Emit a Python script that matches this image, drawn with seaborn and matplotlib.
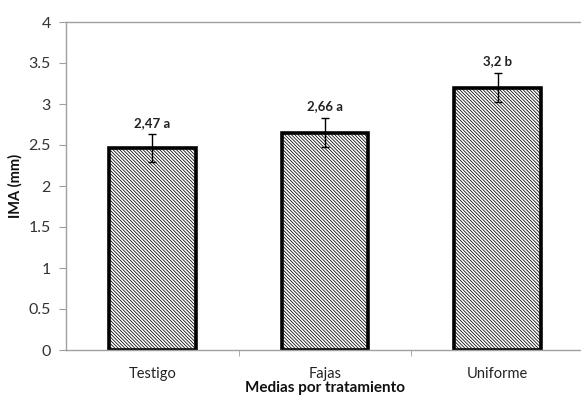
import numpy as np
import pandas as pd
import matplotlib
matplotlib.use("Agg")
import matplotlib.pyplot as plt
import seaborn as sns

# data
tratamientos = ["Testigo", "Fajas", "Uniforme"]
ima_media = [2.46, 2.65, 3.20]
ima_error = [0.17, 0.18, 0.18]
etiquetas = ["2,47 a", "2,66 a", "3,2 b"]

datos = pd.DataFrame({"Tratamiento": tratamientos, "IMA": ima_media})

sns.set_style("white")
plt.rcParams["font.family"] = ["Lato", "DejaVu Sans"]
plt.rcParams["hatch.linewidth"] = 0.55
plt.rcParams["hatch.color"] = "black"

fig = plt.figure(figsize=(5.81, 3.97), dpi=100)
ax = fig.add_axes([66 / 581, 1 - 350 / 397, 518 / 581, 328 / 397])

sns.barplot(
    data=datos,
    x="Tratamiento",
    y="IMA",
    color="white",
    edgecolor="black",
    linewidth=2.6,
    width=0.5,
    errorbar=None,
    ax=ax
)

for barra in ax.patches:
    barra.set_hatch("\\" * 10)

ax.errorbar(
    x=np.arange(len(tratamientos)),
    y=ima_media,
    yerr=ima_error,
    fmt="none",
    ecolor="black",
    elinewidth=1,
    capsize=3,
    capthick=1
)

for i, texto in enumerate(etiquetas):
    ax.annotate(
        texto,
        (i, ima_media[i] + ima_error[i]),
        xytext=(0, 4),
        textcoords="offset points",
        ha="center",
        va="bottom",
        fontsize=9.5,
        fontweight="bold",
        color="#222222"
    )

ax.set_ylim(0, 4)
ax.set_yticks(np.arange(0, 4.01, 0.5))
ax.set_yticklabels(["0", "0.5", "1", "1.5", "2", "2.5", "3", "3.5", "4"])
ax.set_xlim(-0.5, 2.5)
ax.set_xticks([0.5, 1.5], minor=True)

ax.tick_params(axis="y", which="major", left=True, length=5, color="#a0a0a0",
               labelsize=11.5, labelcolor="#333333", pad=6)
ax.tick_params(axis="x", which="major", bottom=False, labelsize=10.5,
               labelcolor="#222222", pad=9)
ax.tick_params(axis="x", which="minor", bottom=True, length=4, color="#a0a0a0")

for lado in ["left", "bottom", "top"]:
    ax.spines[lado].set_color("#a0a0a0")
    ax.spines[lado].set_linewidth(1)
ax.spines["right"].set_visible(False)

ax.set_ylabel("IMA (mm)", fontsize=10.5, fontweight="bold", color="#111111", labelpad=4)
ax.set_xlabel("Medias por tratamiento", fontsize=11, fontweight="bold",
              color="#111111", labelpad=0)

fig.savefig("out.png", dpi=100)
